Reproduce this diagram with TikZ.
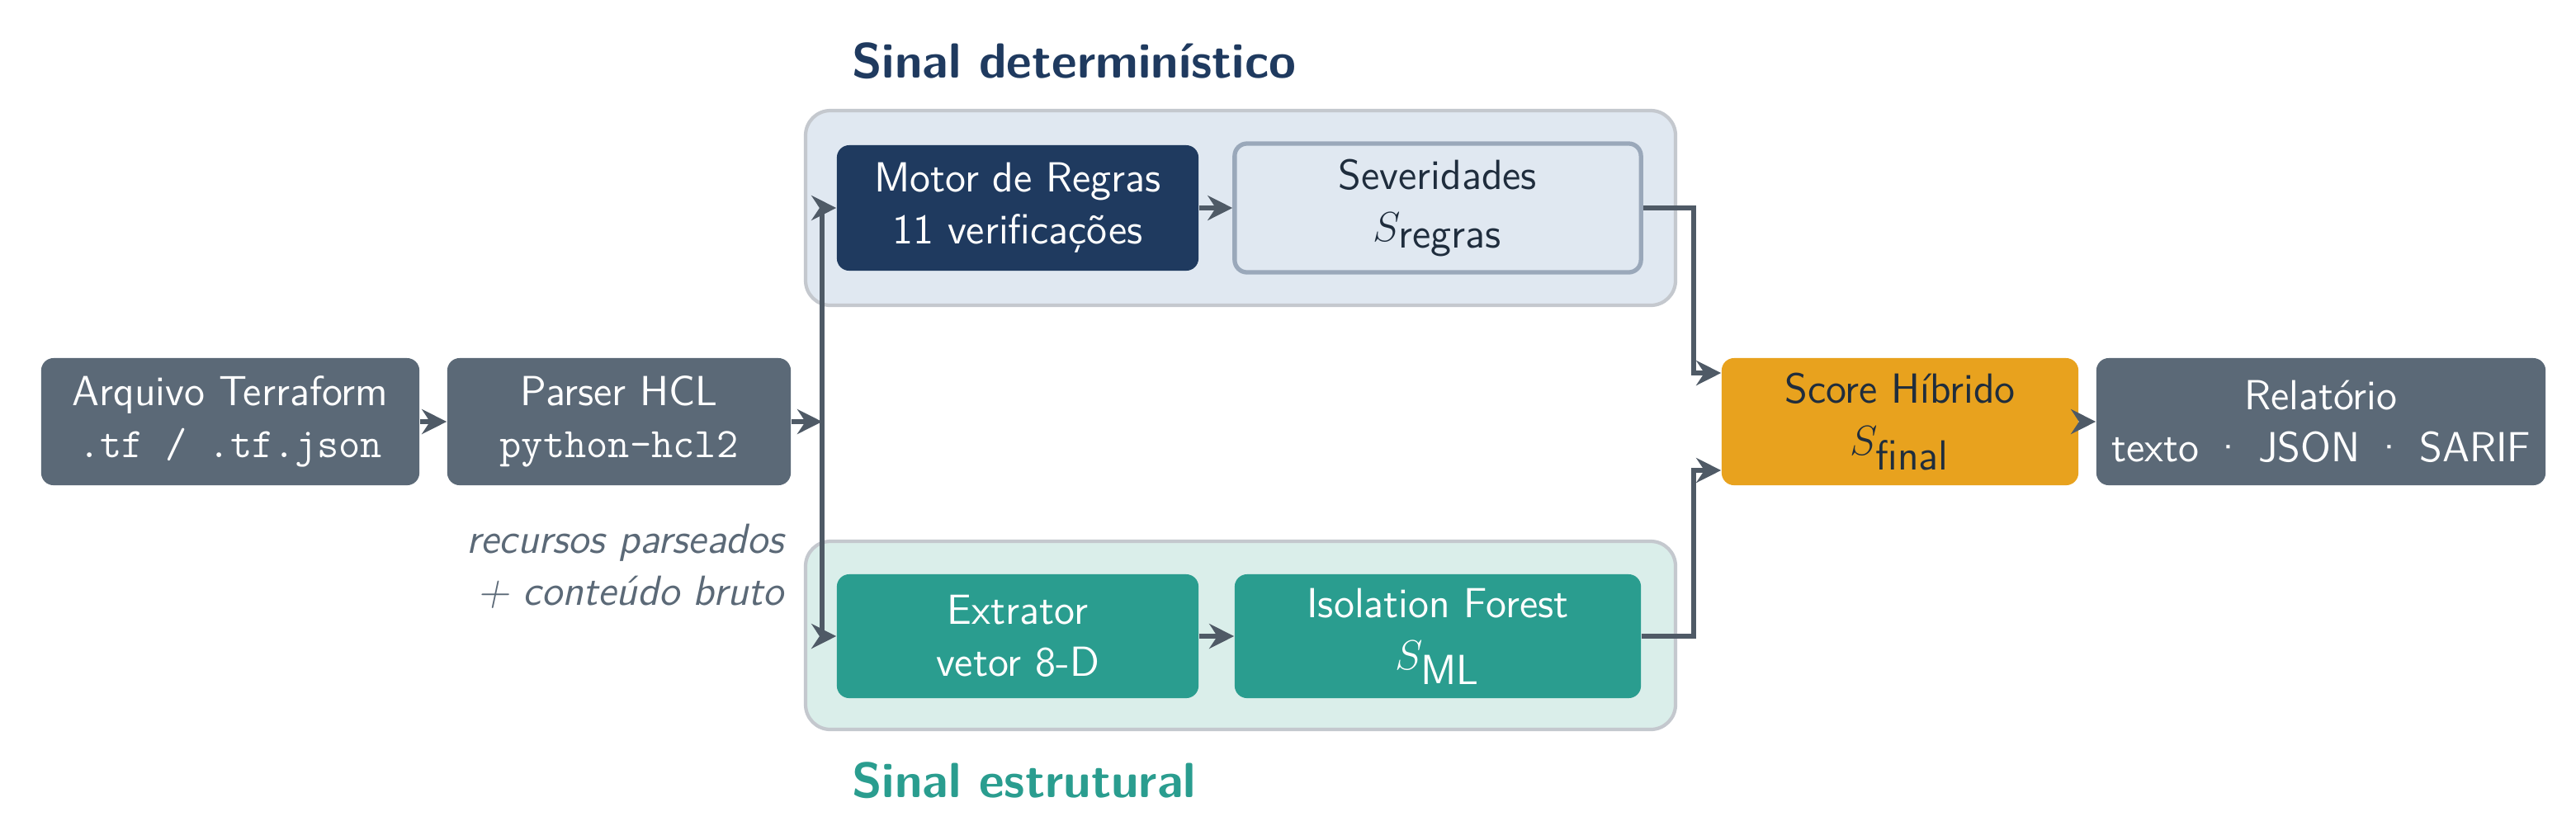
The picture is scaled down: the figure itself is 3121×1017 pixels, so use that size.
\documentclass[tikz,border=0pt]{standalone}
\usepackage{fontspec}
\usetikzlibrary{arrows.meta}
\definecolor{navy}{HTML}{1F3A5F}
\definecolor{slate}{HTML}{5B6977}
\definecolor{teal}{HTML}{2A9D8F}
\definecolor{amber}{HTML}{E8A21E}
\definecolor{bgblue}{HTML}{E0E8F1}
\definecolor{bgteal}{HTML}{DAEEEA}
\definecolor{grpborder}{HTML}{C4C8CE}
\definecolor{sevborder}{HTML}{9AA8BA}
\definecolor{ink}{HTML}{1F2D3D}
\definecolor{arrowc}{HTML}{4F5A66}
\begin{document}
\begin{tikzpicture}[x=0.01cm,y=-0.01cm,
  font=\sffamily\fontsize{14.5}{18}\selectfont,
  box/.style={rounded corners=0.15cm,align=center,inner sep=0pt},
  grp/.style={rounded corners=0.3cm,draw=grpborder,line width=1.2pt},
  conn/.style={draw=arrowc,line width=1.6pt,-{Stealth[length=0.3cm,width=0.3cm]}},
  line/.style={draw=arrowc,line width=1.6pt},
  title/.style={font=\sffamily\bfseries\fontsize{17}{20}\selectfont,anchor=west}]
\useasboundingbox (0,0) rectangle (3121,1017);
\path[grp,fill=bgblue] (976,134) rectangle (2030,370);
\path[grp,fill=bgteal] (976,656) rectangle (2030,884);
\node[title,text=navy] (t1) at (1020,74) {Sinal determinístico};
\node[title,text=teal] (t2) at (1020,946) {Sinal estrutural};
\node[box,fill=slate,text=white,minimum width=4.58cm,minimum height=1.54cm] (arq) at (279,511) {Arquivo Terraform\\\texttt{.tf / .tf.json}};
\node[box,fill=slate,text=white,minimum width=4.16cm,minimum height=1.54cm] (par) at (750,511) {Parser HCL\\\texttt{python-hcl2}};
\node[box,fill=navy,text=white,minimum width=4.38cm,minimum height=1.52cm] (mot) at (1233,252) {Motor de Regras\\11 verificações};
\node[box,fill=bgblue,draw=sevborder,line width=1.5pt,text=ink,minimum width=4.92cm,minimum height=1.56cm] (sev) at (1742,252) {Severidades\\$S_{\textsf{regras}}$};
\node[box,fill=teal,text=white,minimum width=4.38cm,minimum height=1.5cm] (ext) at (1233,771) {Extrator\\vetor 8-D};
\node[box,fill=teal,text=white,minimum width=4.92cm,minimum height=1.5cm] (iso) at (1742,771) {Isolation Forest\\$S_{\textsf{ML}}$};
\node[box,fill=amber,text=ink,minimum width=4.32cm,minimum height=1.54cm] (sco) at (2302,511) {Score Híbrido\\$S_{\textsf{final}}$};
\node[box,fill=slate,text=white,minimum width=5.44cm,minimum height=1.54cm] (rel) at (2812,511) {Relatório\\texto · JSON · SARIF};
\node[anchor=east,align=right,text=slate,font=\sffamily\itshape\fontsize{14.5}{18}\selectfont] (lab) at (962,686) {recursos parseados\\+ conteúdo bruto};
\coordinate (j) at (996,511);
\coordinate (jt) at (996,252);
\coordinate (jb) at (996,771);
\coordinate (s1) at (2052,252);
\coordinate (s2) at (2052,452);
\coordinate (i1) at (2052,771);
\coordinate (i2) at (2052,570);
\draw[conn] (arq) -- (par);
\draw[conn] (par.east) -- (j);
\draw[line] (jt) -- (jb);
\draw[conn] (jt) -- (mot.west);
\draw[conn] (jb) -- (ext.west);
\draw[conn] (mot) -- (sev);
\draw[conn] (ext) -- (iso);
\draw[conn] (sev.east) -- (s1) -- (s2) -- (sco.west |- s2);
\draw[conn] (iso.east) -- (i1) -- (i2) -- (sco.west |- i2);
\draw[conn] (sco) -- (rel);
\end{tikzpicture}
\end{document}
